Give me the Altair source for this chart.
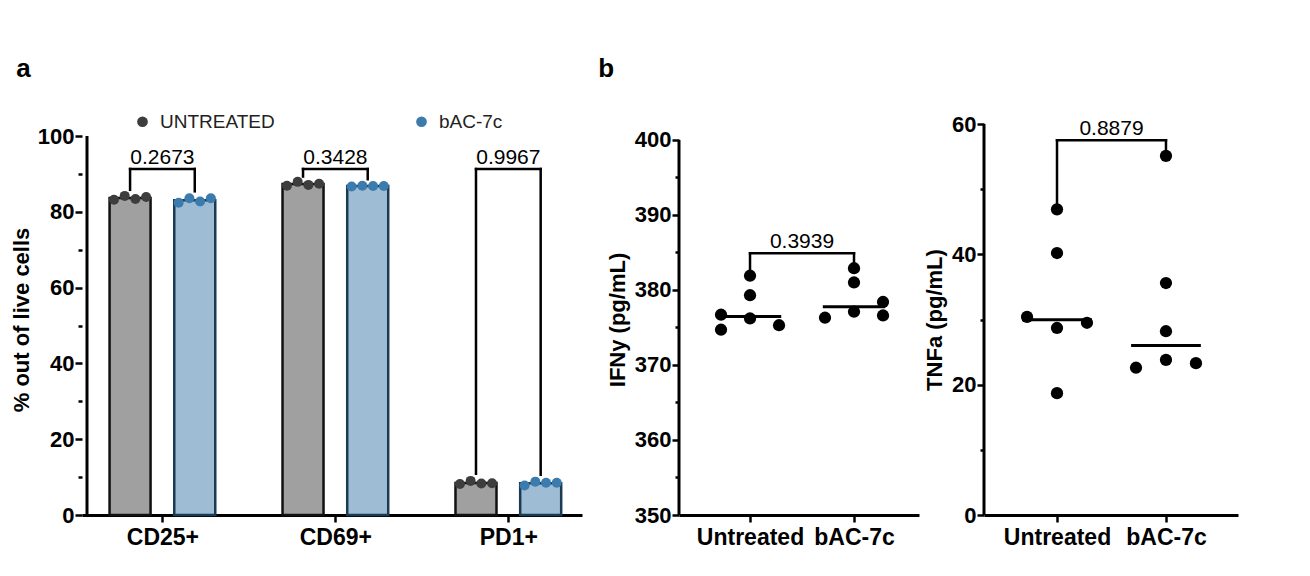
import json
import altair as alt
import pandas as pd

FONT = "Liberation Sans"

# ---------------- panel a data ----------------
cats_a = ["CD25+", "CD69+", "PD1+"]
groups_a = ["UNTREATED", "bAC-7c"]
untreated_cd25 = [83.2, 84.2, 83.4, 83.9]
untreated_cd69 = [86.9, 87.9, 87.1, 87.4]
untreated_pd1 = [8.2, 9.0, 8.3, 8.4]
bac_cd25 = [82.4, 83.6, 82.7, 83.6]
bac_cd69 = [86.7, 86.9, 86.8, 86.8]
bac_pd1 = [7.8, 8.8, 8.5, 8.5]
pvals_a = ["0.2673", "0.3428", "0.9967"]
bracket_top_a = [91.3, 91.3, 91.3]
bracket_left_a = [85.8, 89.3, 10.9]
bracket_right_a = [85.4, 88.6, 10.6]
yticks_a = [0, 10, 20, 30, 40, 50, 60, 70, 80, 90, 100]

# ---------------- panel b data ----------------
groups_b = ["Untreated", "bAC-7c"]
ifn_untreated = [376.7, 374.7, 381.9, 379.3, 376.2, 375.3]
ifn_untreated_slot = [-1, -1, 0, 0, 0, 1]
ifn_bac = [376.3, 382.9, 381.0, 377.1, 378.4, 376.6]
ifn_bac_slot = [-1, 0, 0, 0, 1, 1]
ifn_pval = "0.3939"
ifn_bracket = [384.9, 382.7, 383.7]  # top, left leg end, right leg end
yticks_ifn = [350, 355, 360, 365, 370, 375, 380, 385, 390, 395, 400]

tnf_untreated = [30.4, 46.9, 40.2, 28.7, 18.7, 29.5]
tnf_untreated_slot = [-1, 0, 0, 0, 0, 1]
tnf_bac = [22.6, 55.1, 35.6, 28.2, 23.8, 23.3]
tnf_bac_slot = [-1, 0, 0, 0, 0, 1]
tnf_pval = "0.8879"
tnf_bracket = [57.5, 47.9, 56.1]
yticks_tnf = [0, 10, 20, 30, 40, 50, 60]

# ---------------- tables ----------------
rows = []
series_a = {
    ("CD25+", "UNTREATED"): untreated_cd25, ("CD69+", "UNTREATED"): untreated_cd69,
    ("PD1+", "UNTREATED"): untreated_pd1, ("CD25+", "bAC-7c"): bac_cd25,
    ("CD69+", "bAC-7c"): bac_cd69, ("PD1+", "bAC-7c"): bac_pd1,
}
for (cat, grp), vals in series_a.items():
    for r, v in enumerate(vals):
        rows.append({"cat": cat, "group": grp, "rep": r, "value": v})
df_a = pd.DataFrame(rows)
df_br_a = pd.DataFrame({"cat": cats_a, "label": pvals_a, "top": bracket_top_a,
                        "lb": bracket_left_a, "rb": bracket_right_a})

axis_common = dict(labelFont=FONT, labelFontWeight="bold", labelColor="black",
                   titleFont=FONT, titleFontWeight="bold", titleColor="black",
                   tickColor="black", tickWidth=2.5, grid=False,
                   labelOverlap=False, labelFlush=False)

LABEL_Y = 22
LABEL_X = 23
TITLE_Y = 22
PFONT = 21

cats_js = json.dumps(cats_a)
xs_a = alt.Scale(domain=[-0.436, 2.397], nice=False, zero=False)
ys_a = alt.Scale(domain=[0, 103.17], nice=False, zero=False)
ax_a = alt.Axis(values=[0, 1, 2], labelExpr=f"{cats_js}[datum.value]", title=None,
                domainColor="black", domainWidth=3, tickSize=7, labelFontSize=LABEL_X,
                labelPadding=4, **axis_common)
ay_a = alt.Axis(values=yticks_a, labelExpr="datum.value % 20 == 0 ? datum.label : ''",
                title="% out of live cells", domain=False,
                tickSize={"condition": {"test": "datum.value % 20 != 0", "value": 4}, "value": 7},
                labelFontSize=LABEL_Y, titleFontSize=TITLE_Y, labelPadding=1, titlePadding=4,
                **axis_common)


def XA(f):
    return alt.X(f, type="quantitative", scale=xs_a, axis=ax_a)


def YA(f):
    return alt.Y(f, type="quantitative", scale=ys_a, axis=ay_a)


base_a = alt.Chart(df_a).transform_calculate(
    idx=f"indexof({cats_js}, datum.cat)"
).transform_calculate(
    gx="datum.idx + (datum.group == 'UNTREATED' ? -0.187 : 0.187)"
).transform_calculate(
    px="datum.gx + (datum.rep - 1.5) * 0.062"
)

bars_a = base_a.transform_aggregate(
    mean="mean(value)", groupby=["cat", "group", "gx"]
).mark_bar(size=41, strokeWidth=2.5).encode(
    x=XA("gx"), y=YA("mean"),
    fill=alt.Fill("group:N", scale=alt.Scale(domain=groups_a, range=["#a0a0a0", "#9ebdd4"]), legend=None),
    stroke=alt.Stroke("group:N", scale=alt.Scale(domain=groups_a, range=["#111111", "#1b3b52"]), legend=None),
)

dots_a = base_a.mark_circle(size=100, opacity=1).encode(
    x=XA("px"), y=YA("value"),
    color=alt.Color("group:N", scale=alt.Scale(domain=groups_a, range=["#3d3d3d", "#3b7bad"]),
                    legend=alt.Legend(orient="none", legendX=51, legendY=-12, direction="horizontal",
                                      title=None, labelFont=FONT, labelFontSize=19, labelColor="#222222",
                                      symbolType="circle", symbolSize=115, symbolStrokeWidth=0,
                                      labelOffset=8, columnPadding=137, padding=0)),
)

br_a = alt.Chart(df_br_a).transform_calculate(
    idx=f"indexof({cats_js}, datum.cat)"
).transform_calculate(
    xl="datum.idx - 0.187", xr="datum.idx + 0.187"
)
rule_kw = dict(strokeWidth=2.5, color="black", strokeCap="square")
br_h = br_a.mark_rule(**rule_kw).encode(x=XA("xl"), x2="xr:Q", y=YA("top"))
br_l = br_a.mark_rule(**rule_kw).encode(x=XA("xl"), y=YA("lb"), y2="top:Q")
br_r = br_a.mark_rule(**rule_kw).encode(x=XA("xr"), y=YA("rb"), y2="top:Q")
br_t = br_a.mark_text(font=FONT, fontSize=PFONT, baseline="alphabetic", dy=-5, color="black").encode(
    x=XA("idx"), y=YA("top"), text="label:N")

yline_a = alt.Chart(pd.DataFrame({"x": [-0.436], "y0": [0], "y1": [100]})).mark_rule(
    strokeWidth=3, color="black").encode(x=XA("x"), y=YA("y0"), y2="y1:Q")

panel_a = alt.layer(bars_a, dots_a, br_h, br_l, br_r, br_t, yline_a).properties(
    width=500, height=391,
    title=alt.TitleParams("a", anchor="start", frame="bounds", font=FONT, fontSize=26,
                          fontWeight="bold", color="black", offset=30, dx=6),
)

groups_js = json.dumps(groups_b)


def make_b(unt, unt_slot, bac, bac_slot, pval, bracket, yticks, ydom, xdom, width, title,
           major, jitter, medhalf, panel_title=None):
    d = pd.DataFrame({
        "group": [groups_b[0]] * len(unt) + [groups_b[1]] * len(bac),
        "value": unt + bac,
        "slot": unt_slot + bac_slot,
    })
    xs = alt.Scale(domain=xdom, nice=False, zero=False)
    ys = alt.Scale(domain=ydom, nice=False, zero=False)
    ax = alt.Axis(values=[0, 1], labelExpr=f"{groups_js}[datum.value]", title=None,
                  domainColor="black", domainWidth=3, tickSize=7, labelFontSize=LABEL_X,
                  labelPadding=4, **axis_common)
    ay = alt.Axis(values=yticks, labelExpr=f"datum.value % {major} == 0 ? datum.label : ''",
                  title=title, domain=False,
                  tickSize={"condition": {"test": f"datum.value % {major} != 0", "value": 4}, "value": 7},
                  labelFontSize=LABEL_Y, titleFontSize=TITLE_Y, labelPadding=1, titlePadding=5,
                  **axis_common)

    def XB(f):
        return alt.X(f, type="quantitative", scale=xs, axis=ax)

    def YB(f):
        return alt.Y(f, type="quantitative", scale=ys, axis=ay)

    base = alt.Chart(d).transform_calculate(idx=f"indexof({groups_js}, datum.group)")
    dots = base.transform_calculate(px=f"datum.idx + datum.slot * {jitter}").mark_circle(
        size=150, opacity=1, color="black").encode(x=XB("px"), y=YB("value"))
    med = base.transform_aggregate(med="median(value)", groupby=["group", "idx"]).transform_calculate(
        xl=f"datum.idx - {medhalf}", xr=f"datum.idx + {medhalf}"
    ).mark_rule(strokeWidth=3, color="black").encode(x=XB("xl"), x2="xr:Q", y=YB("med"))
    bd = alt.Chart(pd.DataFrame({"xl": [0], "xr": [1], "top": [bracket[0]], "lb": [bracket[1]],
                                 "rb": [bracket[2]], "label": [pval]})).transform_calculate(
        xm="(datum.xl + datum.xr) / 2")
    bh = bd.mark_rule(**rule_kw).encode(x=XB("xl"), x2="xr:Q", y=YB("top"))
    bl = bd.mark_rule(**rule_kw).encode(x=XB("xl"), y=YB("lb"), y2="top:Q")
    brr = bd.mark_rule(**rule_kw).encode(x=XB("xr"), y=YB("rb"), y2="top:Q")
    bt = bd.mark_text(font=FONT, fontSize=PFONT, baseline="alphabetic", dy=-5, color="black").encode(
        x=XB("xm"), y=YB("top"), text="label:N")
    yl = alt.Chart(pd.DataFrame({"x": [xdom[0]], "y0": [yticks[0]], "y1": [yticks[-1]]})).mark_rule(
        strokeWidth=3, color="black").encode(x=XB("x"), y=YB("y0"), y2="y1:Q")
    props = dict(width=width, height=391)
    if panel_title is not None:
        props["title"] = panel_title
    return alt.layer(dots, med, bh, bl, brr, bt, yl).properties(**props)


panel_b1 = make_b(ifn_untreated, ifn_untreated_slot, ifn_bac, ifn_bac_slot, ifn_pval, ifn_bracket,
                  yticks_ifn, [350, 402.13], [-0.683, 1.625], 240, "IFNy (pg/mL)", 10, 0.279, 0.30,
                  alt.TitleParams("b", anchor="start", frame="bounds", font=FONT, fontSize=26,
                                  fontWeight="bold", color="black", offset=42, dx=-8))
panel_b2 = make_b(tnf_untreated, tnf_untreated_slot, tnf_bac, tnf_bac_slot, tnf_pval, tnf_bracket,
                  yticks_tnf, [0, 60], [-0.670, 1.661], 254, "TNFa (pg/mL)", 20, 0.275, 0.32)

chart = alt.hconcat(
    panel_a, alt.hconcat(panel_b1, panel_b2, spacing=4), spacing=16
).resolve_scale(color="independent").properties(
    padding={"left": 2, "top": 48, "right": 5, "bottom": 5}
).configure_view(stroke=None)

chart.save("out.html", embed_options={"renderer": "svg", "actions": False})
